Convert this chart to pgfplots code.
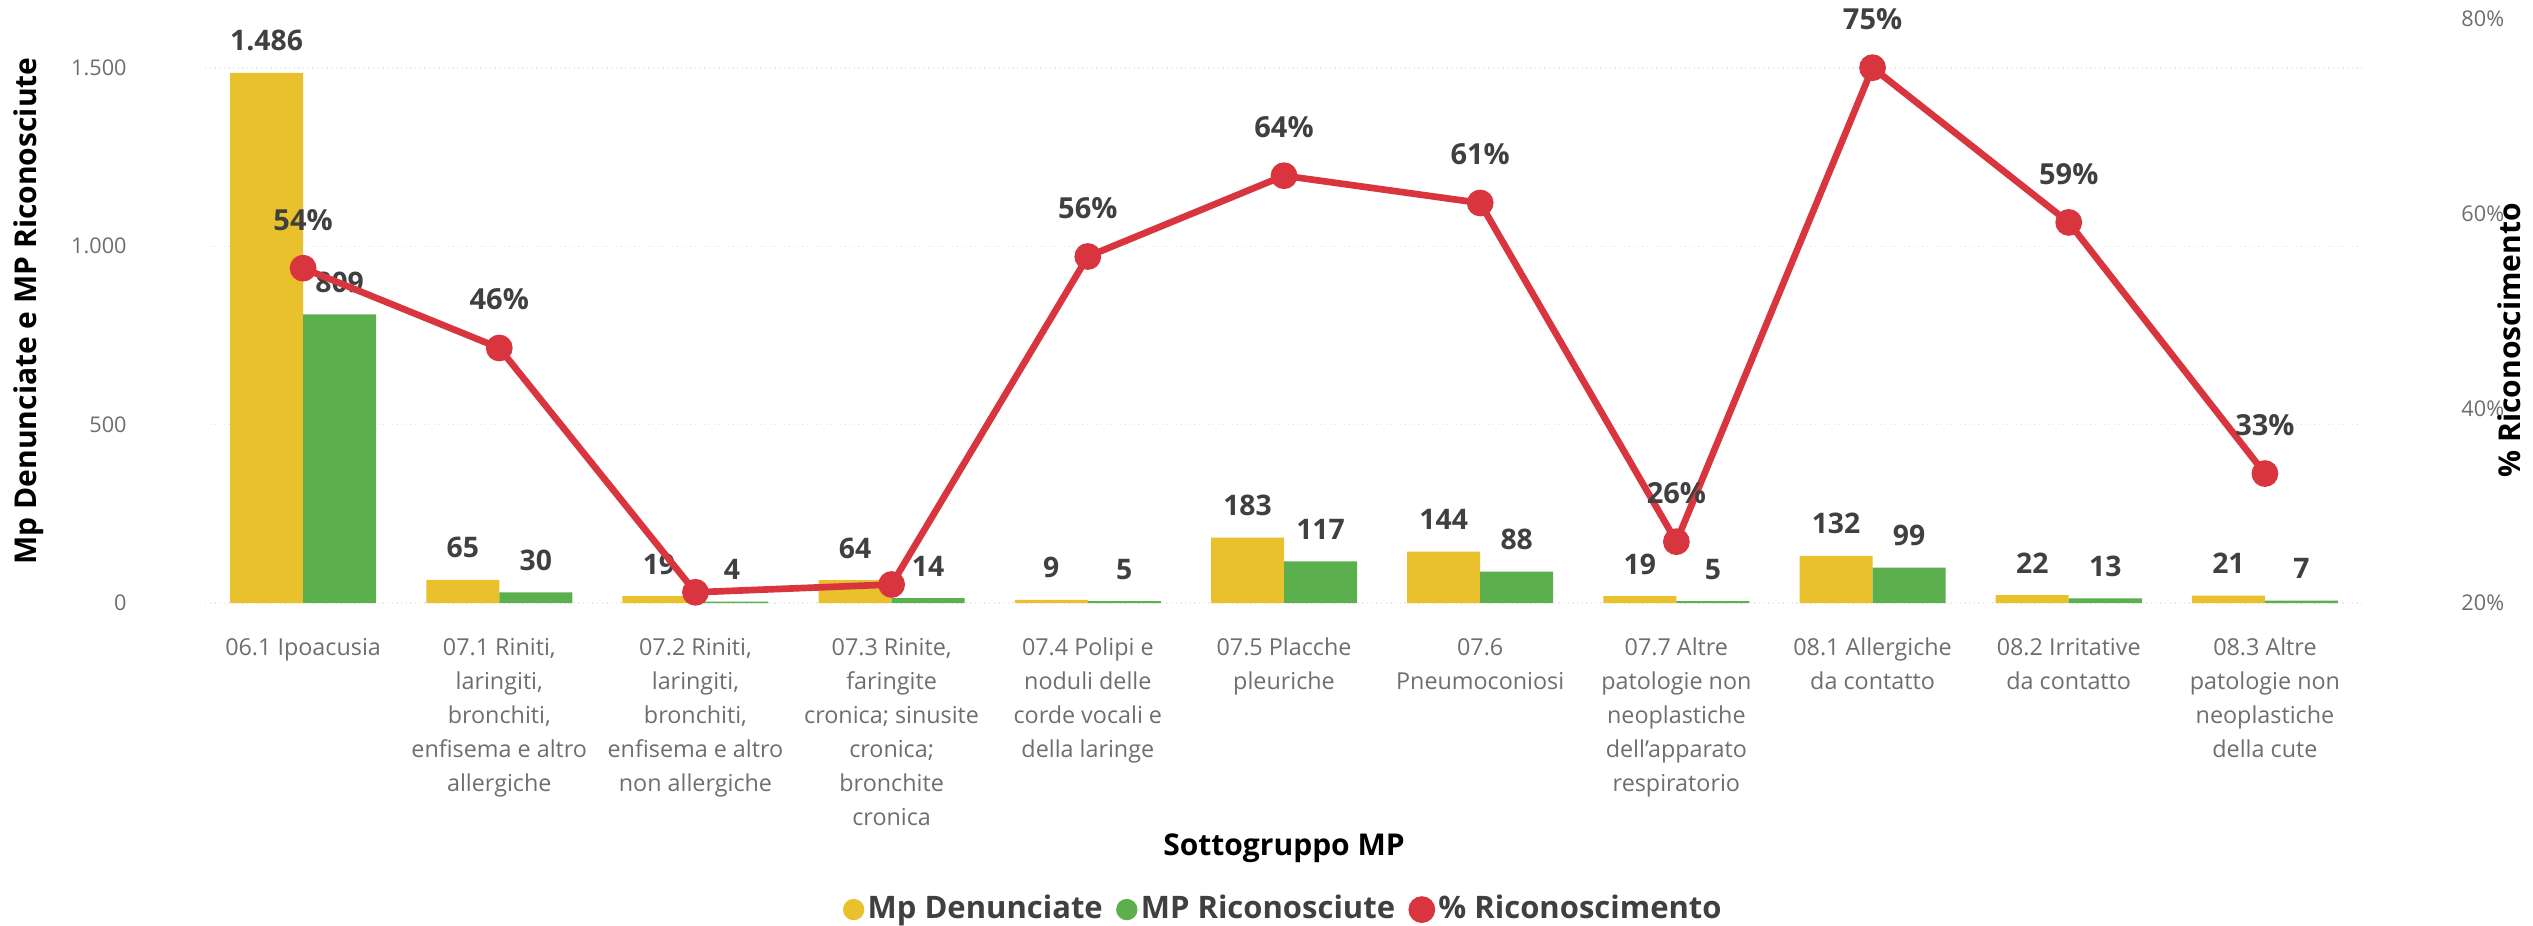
\documentclass[border=0pt]{standalone}
\usepackage{pgfplots}
\pgfplotsset{compat=1.18}
\usepackage{fontspec}
\setmainfont{Open Sans}
\usetikzlibrary{calc}
\definecolor{cyel}{HTML}{E8C12C}
\definecolor{cgrn}{HTML}{5BAF4D}
\definecolor{cred}{HTML}{D8353F}
\definecolor{ctick}{HTML}{6E6E6E}
\definecolor{clab}{HTML}{404040}
\begin{document}
\begin{tikzpicture}
\pgfplotsset{
  base/.style={
    scale only axis, width=647.4pt, height=175.2pt,
    xmin=-0.5, xmax=10.5,
    major tick length=0pt,
    axis line style={draw=none},
    clip=false,
  }
}
\begin{axis}[base, name=ax,
  axis x line*=bottom, axis y line*=left,
  ymin=0, ymax=1637,
  ybar=0pt, bar width=21.9pt,
  ytick={0,500,1000,1500},
  yticklabels={0,500,1.000,1.500},
  yticklabel style={font=\fontsize{6.5}{7}\selectfont, text=ctick, xshift=-20pt},
  ymajorgrids, grid style={densely dotted, black!8},
  xtick={0,...,10},
  xticklabels={{06.1 Ipoacusia},
    {07.1 Riniti,\\laringiti,\\bronchiti,\\enfisema e altro\\allergiche},
    {07.2 Riniti,\\laringiti,\\bronchiti,\\enfisema e altro\\non allergiche},
    {07.3 Rinite,\\faringite\\cronica; sinusite\\cronica;\\bronchite\\cronica},
    {07.4 Polipi e\\noduli delle\\corde vocali e\\della laringe},
    {07.5 Placche\\pleuriche},
    {07.6\\Pneumoconiosi},
    {07.7 Altre\\patologie non\\neoplastiche\\dell'apparato\\respiratorio},
    {08.1 Allergiche\\da contatto},
    {08.2 Irritative\\da contatto},
    {08.3 Altre\\patologie non\\neoplastiche\\della cute}},
  xticklabel style={font=\fontsize{7}{10.2}\selectfont, text=ctick, align=center, anchor=north, yshift=-7pt},
  xlabel={Sottogruppo MP},
  xlabel style={font=\bfseries\fontsize{9}{10}\selectfont, text=black, at={(axis description cs:0.5,-0.42)}, anchor=center},
  ylabel={Mp Denunciate e MP Riconosciute},
  ylabel style={font=\bfseries\fontsize{9}{10}\selectfont, text=black, at={(axis description cs:-0.0816,0.5)}, anchor=center},
  point meta=explicit symbolic,
  nodes near coords,
  nodes near coords style={font=\bfseries\fontsize{8.5}{9}\selectfont, text=clab, yshift=3pt},
]
\addplot[fill=cyel, draw=none] coordinates {
  (0,1486) [1.486] (1,65) [65] (2,19) [19] (3,64) [64] (4,9) [9] (5,183) [183]
  (6,144) [144] (7,19) [19] (8,132) [132] (9,22) [22] (10,21) [21]};
\addplot[fill=cgrn, draw=none] coordinates {
  (0,809) [809] (1,30) [30] (2,4) [4] (3,14) [14] (4,5) [5] (5,117) [117]
  (6,88) [88] (7,5) [5] (8,99) [99] (9,13) [13] (10,7) [7]};
\end{axis}
\begin{axis}[base,
  axis x line=none, axis y line*=right,
  ymin=20, ymax=80,
  ytick={20,40,60,80},
  yticklabels={20\%,40\%,60\%,80\%},
  yticklabel style={font=\fontsize{6.5}{7}\selectfont, text=ctick, xshift=26pt},
  ylabel={\% Riconoscimento},
  ylabel style={font=\bfseries\fontsize{9}{10}\selectfont, text=black, at={(axis description cs:1.0677,0.45)}, anchor=center},
  point meta=explicit symbolic,
  legend columns=3,
  legend style={at={(0.5,-0.525)}, anchor=center, draw=none, fill=none,
    font=\bfseries\fontsize{9.3}{10}\selectfont, text=clab,
    /tikz/every even column/.append style={column sep=3pt},
    inner sep=0pt, nodes={inner sep=1pt}},
]
\addlegendimage{legend image code/.code={\fill[cyel] (0.25em,0pt) circle (3pt);}}
\addlegendentry{Mp Denunciate}
\addlegendimage{legend image code/.code={\fill[cgrn] (0.25em,0pt) circle (3pt);}}
\addlegendentry{MP Riconosciute}
\addplot[cred, line width=2pt, mark=*, mark size=3pt, mark options={fill=cred, draw=cred},
  nodes near coords, nodes near coords style={font=\bfseries\fontsize{8.7}{9}\selectfont, text=clab, anchor=south, yshift=7pt},
  legend image code/.code={\fill[cred] (0.25em,0pt) circle (3pt);}]
coordinates {
  (0,54.4) [54\%] (1,46.2) [46\%] (2,21.1) [{}] (3,21.9) [{}] (4,55.6) [56\%]
  (5,63.9) [64\%] (6,61.1) [61\%] (7,26.3) [26\%] (8,75.0) [75\%] (9,59.1) [59\%]
  (10,33.3) [33\%]};
\addlegendentry{\% Riconoscimento}
\end{axis}
\pgfresetboundingbox
\path[use as bounding box] ($(ax.south west)+(-61.5pt,-96.9pt)$) rectangle ($(ax.north east)+(51pt,5.7pt)$);
\end{tikzpicture}
\end{document}
